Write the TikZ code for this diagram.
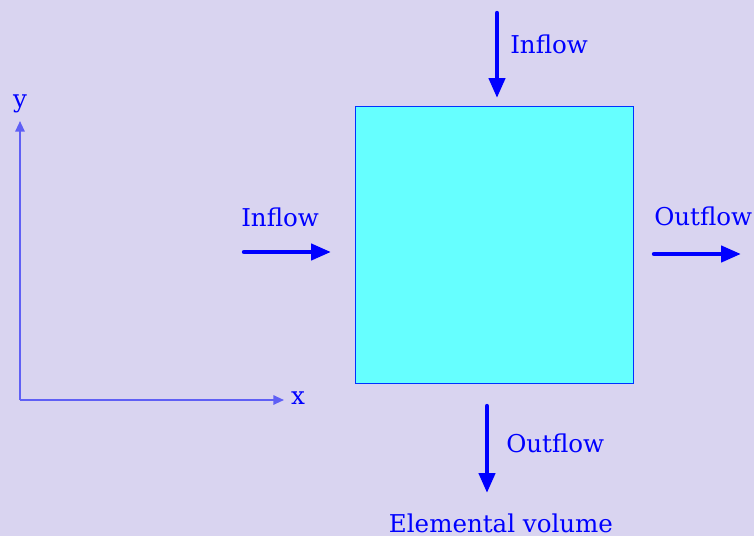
\documentclass[tikz,border=0pt]{standalone}
\usepackage{fontspec}
\setmainfont{DejaVu Serif}
\usetikzlibrary{arrows.meta}
\definecolor{bgcol}{HTML}{D9D4F0}
\definecolor{boxcol}{HTML}{66FFFF}
\definecolor{flowblue}{HTML}{0000FF}
\definecolor{axisblue}{HTML}{5F5FF5}
\tikzset{
  lbl/.style={text=flowblue, font=\fontsize{18.4}{22}\selectfont, inner sep=0pt, anchor=center},
  flow/.style={draw=flowblue, line width=3.3pt, line cap=round, -{Triangle[width=12pt,length=15pt]}},
  axis/.style={draw=axisblue, line width=1.4pt, -{Triangle[width=7pt,length=8pt]}},
  elem/.style={draw=flowblue!80!cyan, line width=0.6pt, fill=boxcol}
}
\begin{document}
\begin{tikzpicture}[x=0.75pt,y=-0.75pt]
\fill[bgcol] (0,0) rectangle (754,536);
\useasboundingbox (0,0) rectangle (754,536);
% elemental volume
\draw[elem] (355,106) rectangle (633,383);
% axes
\coordinate (o) at (20,400);
\coordinate (yend) at (20,121);
\coordinate (xend) at (284,400);
\draw[axis] (o) -- (yend);
\draw[axis] (o) -- (xend);
\node[lbl] (ylab) at (20,104) {y};
\node[lbl] (xlab) at (298,398) {x};
% top inflow
\coordinate (t1) at (497,13);
\coordinate (t2) at (497,98);
\draw[flow] (t1) -- (t2);
\node[lbl, anchor=west] (tlab) at (510,44) {Inflow};
% left inflow
\coordinate (l1) at (244,252);
\coordinate (l2) at (331,252);
\draw[flow] (l1) -- (l2);
\node[lbl, anchor=west] (llab) at (241,217) {Inflow};
% right outflow
\coordinate (r1) at (654,254);
\coordinate (r2) at (741,254);
\draw[flow] (r1) -- (r2);
\node[lbl, anchor=west] (rlab) at (654,216) {Outflow};
% bottom outflow
\coordinate (b1) at (487,406);
\coordinate (b2) at (487,493);
\draw[flow] (b1) -- (b2);
\node[lbl, anchor=west] (blab) at (506,443) {Outflow};
\node[lbl] (title) at (501,523) {Elemental volume};
\end{tikzpicture}
\end{document}
